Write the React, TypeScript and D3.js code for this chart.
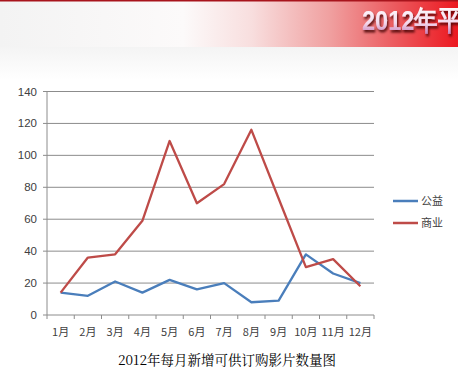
import React from "react";
import * as d3 from "d3";

const months = ["1月", "2月", "3月", "4月", "5月", "6月", "7月", "8月", "9月", "10月", "11月", "12月"];
const gongyi = [14, 12, 21, 14, 22, 16, 20, 8, 9, 38, 26, 20];
const shangye = [14, 36, 38, 59, 109, 70, 82, 116, 73, 30, 35, 18];
const yTicks = [0, 20, 40, 60, 80, 100, 120, 140];
const seriesNames = ["公益", "商业"];
const chartTitle = "2012年每月新增可供订购影片数量图";
const bannerTitle = "2012年平";

export default function App() {
  const W = 458, H = 377;
  const left = 47, right = 374, top = 91.5, bottom = 315;
  const x = d3.scaleBand<string>().domain(months).range([left, right]);
  const y = d3.scaleLinear().domain([0, 140]).range([bottom, top]);
  const line = d3
    .line<number>()
    .x((_, i) => (x(months[i]) as number) + x.bandwidth() / 2)
    .y((d) => y(d));
  const colors = ["#4a7ebb", "#be4b48"];
  const series = [gongyi, shangye];
  const axisFont = "'Liberation Sans', Arial, sans-serif";
  const cjk = "'Noto Sans CJK SC', sans-serif";

  return (
    <svg
      width={W}
      height={H}
      style={{ position: "absolute", left: 0, top: 0, background: "#fff" }}
    >
      <defs>
        <linearGradient id="bannerH" x1="0" x2="1" y1="0" y2="0">
          <stop offset="0" stopColor="#f3f3f3" />
          <stop offset="0.4" stopColor="#fcfafa" />
          <stop offset="0.55" stopColor="#f8dede" />
          <stop offset="0.72" stopColor="#f0a0a0" />
          <stop offset="0.85" stopColor="#ec6064" />
          <stop offset="1" stopColor="#ec1820" />
        </linearGradient>
        <linearGradient id="fadeV" x1="0" x2="0" y1="0" y2="1">
          <stop offset="0" stopColor="#f4f4f4" />
          <stop offset="1" stopColor="#ffffff" />
        </linearGradient>
        <linearGradient id="titleFill" x1="0" x2="0" y1="0" y2="1">
          <stop offset="0" stopColor="#ffffff" />
          <stop offset="0.6" stopColor="#f4d8ec" />
          <stop offset="1" stopColor="#c070b0" />
        </linearGradient>
        <filter id="shadow" x="-20%" y="-20%" width="140%" height="160%">
          <feDropShadow dx="1.5" dy="2.5" stdDeviation="1" floodColor="#400000" floodOpacity="0.85" />
        </filter>
        <clipPath id="bannerClip">
          <rect x={0} y={0} width={W} height={47} />
        </clipPath>
      </defs>
      <rect x={0} y={47} width={W} height={33} fill="url(#fadeV)" />
      <rect x={0} y={0} width={W} height={47} fill="url(#bannerH)" />
      <rect x={0} y={0} width={W} height={1.5} fill="#a8141c" />
      <g clipPath="url(#bannerClip)">
        <text
          transform="translate(362,30) scale(0.84,1)"
          fontFamily="'Liberation Sans', Arial, sans-serif"
          fontWeight="bold"
          fontSize={28}
          fill="url(#titleFill)"
          filter="url(#shadow)"
        >
          {bannerTitle}
        </text>
      </g>

      {yTicks.map((t) => (
        <g key={t}>
          {t > 0 && (
            <line x1={left} x2={right} y1={y(t)} y2={y(t)} stroke="#8c8c8c" strokeWidth={1} />
          )}
          <line x1={left - 4} x2={left} y1={y(t)} y2={y(t)} stroke="#8c8c8c" strokeWidth={1} />
          <text
            x={left - 10}
            y={y(t)}
            dy="0.35em"
            textAnchor="end"
            fontFamily={axisFont}
            fontSize={11.5}
            fill="#404040"
          >
            {t}
          </text>
        </g>
      ))}
      <line x1={left} x2={left} y1={top} y2={bottom} stroke="#8c8c8c" strokeWidth={1} />
      <line x1={left} x2={right} y1={bottom} y2={bottom} stroke="#8c8c8c" strokeWidth={1} />
      {months.map((m) => (
        <g key={m}>
          <line
            x1={(x(m) as number) + x.bandwidth()}
            x2={(x(m) as number) + x.bandwidth()}
            y1={bottom}
            y2={bottom + 4}
            stroke="#8c8c8c"
          />
          <text
            x={(x(m) as number) + x.bandwidth() / 2}
            y={332}
            dy="0.35em"
            textAnchor="middle"
            fontFamily={cjk}
            fontSize={11}
            fill="#404040"
          >
            {m}
          </text>
        </g>
      ))}
      <line x1={left} x2={left} y1={bottom} y2={bottom + 4} stroke="#8c8c8c" />

      {series.map((s, i) => (
        <path
          key={i}
          d={line(s) as string}
          fill="none"
          stroke={colors[i]}
          strokeWidth={2.3}
          strokeLinejoin="round"
        />
      ))}

      {seriesNames.map((n, i) => (
        <g key={n}>
          <line x1={393} x2={418} y1={201 + i * 22} y2={201 + i * 22} stroke={colors[i]} strokeWidth={2.5} />
          <text
            x={421}
            y={201 + i * 22}
            dy="0.35em"
            fontFamily={cjk}
            fontSize={11}
            fill="#404040"
          >
            {n}
          </text>
        </g>
      ))}

      <text
        x={227}
        y={360}
        dy="0.35em"
        textAnchor="middle"
        fontFamily="'Noto Serif CJK SC', 'Noto Sans CJK SC', serif"
        fontSize={13.5}
        fill="#000"
      >
        {chartTitle}
      </text>
    </svg>
  );
}
